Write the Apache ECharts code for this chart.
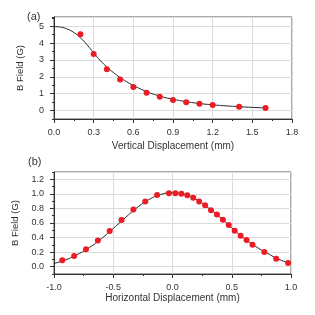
<!DOCTYPE html>
<html>
<head>
<meta charset="utf-8">
<script src="https://cdn.jsdelivr.net/npm/echarts@6/dist/echarts.min.js"></script>
<style>
html,body{margin:0;padding:0;background:#fff;}
#c{width:315px;height:315px;}
</style>
</head>
<body>
<div id="c"></div>
<script>
// Panel (a): vertical displacement
const aPointX = [0.2, 0.3, 0.4, 0.5, 0.6, 0.7, 0.8, 0.9, 1.0, 1.1, 1.2, 1.4, 1.6];
const aPointY = [4.52, 3.35, 2.45, 1.85, 1.4, 1.05, 0.82, 0.62, 0.5, 0.4, 0.33, 0.22, 0.15];
const aCurveX = [0, 0.05, 0.1, 0.15, 0.2, 0.25, 0.3, 0.35, 0.4, 0.45, 0.5, 0.55, 0.6, 0.7, 0.8, 0.9, 1.0, 1.1, 1.2, 1.3, 1.4, 1.5, 1.6];
const aCurveY = [4.98, 4.95, 4.84, 4.63, 4.32, 3.9, 3.42, 2.97, 2.58, 2.25, 1.96, 1.71, 1.49, 1.13, 0.86, 0.67, 0.53, 0.42, 0.34, 0.28, 0.23, 0.19, 0.16];
const aXTicks = [0.0, 0.3, 0.6, 0.9, 1.2, 1.5, 1.8];
const aYTicks = [0, 1, 2, 3, 4, 5];

// Panel (b): horizontal displacement
const bPointX = [-0.93, -0.83, -0.73, -0.63, -0.53, -0.43, -0.33, -0.23, -0.13, -0.03, 0.025, 0.075, 0.125, 0.175, 0.225, 0.275, 0.325, 0.375, 0.425, 0.475, 0.525, 0.575, 0.625, 0.675, 0.775, 0.875, 0.975];
const bPointY = [0.09, 0.148, 0.24, 0.36, 0.49, 0.64, 0.785, 0.895, 0.983, 1.01, 1.01, 1.0, 0.98, 0.946, 0.895, 0.845, 0.775, 0.715, 0.646, 0.572, 0.494, 0.425, 0.365, 0.3, 0.203, 0.11, 0.05];
const bCurveX = [-1.0, -0.9, -0.8, -0.7, -0.6, -0.5, -0.4, -0.3, -0.2, -0.1, 0.0, 0.1, 0.2, 0.3, 0.4, 0.5, 0.6, 0.7, 0.8, 0.9, 1.0];
const bCurveY = [0.045, 0.095, 0.17, 0.265, 0.385, 0.525, 0.67, 0.81, 0.92, 0.99, 1.02, 0.995, 0.925, 0.81, 0.68, 0.533, 0.395, 0.28, 0.185, 0.1, 0.045];
const bXTicks = [-1.0, -0.5, 0.0, 0.5, 1.0];
const bYTicks = [0.0, 0.2, 0.4, 0.6, 0.8, 1.0, 1.2];

const FONT = "'Liberation Sans', Arial, sans-serif";
const TXT = '#333';
const AX = '#333';
const RED = '#ec1c24';

function zip(xs, ys) { return xs.map((x, i) => [x, ys[i]]); }

function mainX(gridIndex, min, max, interval, name, gap, decimals) {
  return {
    type: 'value', gridIndex, min, max, interval,
    name, nameLocation: 'middle', nameGap: gap,
    nameTextStyle: { fontFamily: FONT, fontSize: 10, color: TXT },
    axisLine: { show: true, onZero: false, lineStyle: { color: AX, width: 1 } },
    axisTick: { show: true, inside: false, length: 4, lineStyle: { color: AX } },
    minorTick: { show: true, splitNumber: 2, length: 2, lineStyle: { color: AX } },
    axisLabel: { fontFamily: FONT, fontSize: 9, color: TXT, margin: 9,
      formatter: v => v.toFixed(decimals) },
    splitLine: { show: true, lineStyle: { color: '#dcdcdc', width: 1 } },
    minorSplitLine: { show: false }
  };
}

function mainY(gridIndex, min, max, splitNumber, ticks, decimals) {
  return {
    type: 'value', gridIndex, min, max, splitNumber,
    name: 'B Field (G)', nameLocation: 'middle', nameGap: 29,
    nameTextStyle: { fontFamily: FONT, fontSize: 9.5, color: TXT },
    axisLine: { show: true, onZero: false, lineStyle: { color: AX, width: 1 } },
    axisTick: { show: true, inside: false, length: 4, lineStyle: { color: AX } },
    axisLabel: { fontFamily: FONT, fontSize: 9, color: TXT, margin: 10,
      showMinLabel: false, showMaxLabel: false,
      formatter: v => {
        const hit = ticks.find(t => Math.abs(t - v) < 1e-6);
        return hit === undefined ? '' : hit.toFixed(decimals);
      } },
    splitLine: { show: true, lineStyle: { color: '#dcdcdc', width: 1 } }
  };
}

function minorY(gridIndex, min, max, interval) {
  return {
    type: 'value', gridIndex, min, max, interval, position: 'left',
    axisLine: { show: false, onZero: false },
    axisTick: { show: true, inside: false, length: 2, lineStyle: { color: AX } },
    axisLabel: { show: false },
    splitLine: { show: false }
  };
}

const chart = echarts.init(document.getElementById('c'), null, { renderer: 'canvas' });
chart.setOption({
  animation: false,
  backgroundColor: '#fff',
  textStyle: { fontFamily: FONT },
  title: [
    { text: '(a)', left: 22, top: 6, textStyle: { fontFamily: FONT, fontSize: 11, fontWeight: 'normal', color: TXT } },
    { text: '(b)', left: 23, top: 151, textStyle: { fontFamily: FONT, fontSize: 11, fontWeight: 'normal', color: TXT } }
  ],
  grid: [
    { left: 54, top: 17, width: 238, height: 102, show: true, borderColor: '#555', borderWidth: 1, backgroundColor: 'transparent' },
    { left: 54, top: 172, width: 237, height: 102, show: true, borderColor: '#555', borderWidth: 1, backgroundColor: 'transparent' }
  ],
  xAxis: [
    mainX(0, aXTicks[0], aXTicks[aXTicks.length - 1], 0.3, 'Vertical Displacement (mm)', 22, 1),
    mainX(1, bXTicks[0], bXTicks[bXTicks.length - 1], 0.5, 'Horizontal Displacement (mm)', 19, 1)
  ],
  yAxis: [
    mainY(0, -0.5, 5.55, 6, aYTicks, 0),
    mainY(1, -0.1, 1.3, 7, bYTicks, 1),
    minorY(0, -0.5, 5.55, 0.5),
    minorY(1, -0.1, 1.3, 0.1)
  ],
  series: [
    { type: 'line', xAxisIndex: 0, yAxisIndex: 0, data: zip(aCurveX, aCurveY), smooth: true, showSymbol: false,
      lineStyle: { color: '#222', width: 1 }, z: 2 },
    { type: 'scatter', xAxisIndex: 0, yAxisIndex: 0, data: zip(aPointX, aPointY), symbolSize: 6,
      itemStyle: { color: RED, opacity: 1 }, z: 3 },
    { type: 'line', xAxisIndex: 1, yAxisIndex: 1, data: zip(bCurveX, bCurveY), smooth: true, showSymbol: false,
      lineStyle: { color: '#222', width: 1 }, z: 2 },
    { type: 'scatter', xAxisIndex: 1, yAxisIndex: 1, data: zip(bPointX, bPointY), symbolSize: 6,
      itemStyle: { color: RED, opacity: 1 }, z: 3 }
  ]
});
</script>
</body>
</html>
